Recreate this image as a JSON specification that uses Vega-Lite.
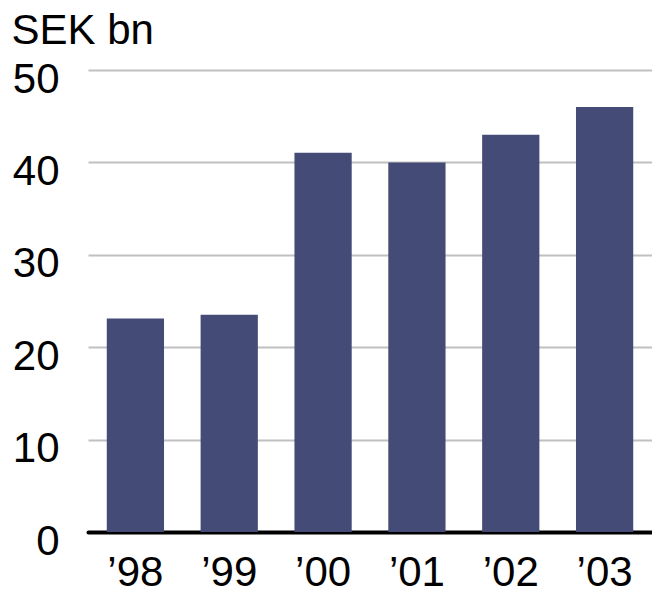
{
  "$schema": "https://vega.github.io/schema/vega-lite/v6.json",
  "autosize": "none",
  "width": 564,
  "height": 462,
  "padding": {"left": 88, "top": 70, "right": 0, "bottom": 63},
  "background": "white",
  "config": {
    "view": {"stroke": null},
    "font": "Liberation Sans"
  },
  "data": {
    "values": [
      {"year": "’98", "value": 23.1},
      {"year": "’99", "value": 23.5},
      {"year": "’00", "value": 41.05},
      {"year": "’01", "value": 40.0},
      {"year": "’02", "value": 43.0},
      {"year": "’03", "value": 46.0}
    ]
  },
  "mark": {"type": "bar", "color": "#454b77"},
  "encoding": {
    "x": {
      "field": "year",
      "type": "nominal",
      "sort": null,
      "scale": {"paddingInner": 0.39, "paddingOuter": 0.2},
      "axis": {
        "title": null,
        "labelAngle": 0,
        "labelFont": "Liberation Sans",
        "labelFontSize": 42,
        "labelColor": "black",
        "labelPadding": 20,
        "ticks": false,
        "domainColor": "black",
        "domainWidth": 4,
        "domainCap": "round",
        "grid": false
      }
    },
    "y": {
      "field": "value",
      "type": "quantitative",
      "scale": {"domain": [0, 50], "nice": false},
      "axis": {
        "values": [0, 10, 20, 30, 40, 50],
        "title": "SEK bn",
        "titleAngle": 0,
        "titleX": -77,
        "titleY": -27,
        "titleAlign": "left",
        "titleBaseline": "alphabetic",
        "titleFont": "Liberation Sans",
        "titleFontSize": 42,
        "titleFontWeight": "normal",
        "titleColor": "black",
        "labelFont": "Liberation Sans",
        "labelFontSize": 42,
        "labelColor": "black",
        "labelOffset": 9,
        "labelPadding": 29,
        "ticks": false,
        "domain": false,
        "grid": true,
        "gridColor": "#c0c0c0",
        "gridWidth": 2
      }
    }
  }
}
